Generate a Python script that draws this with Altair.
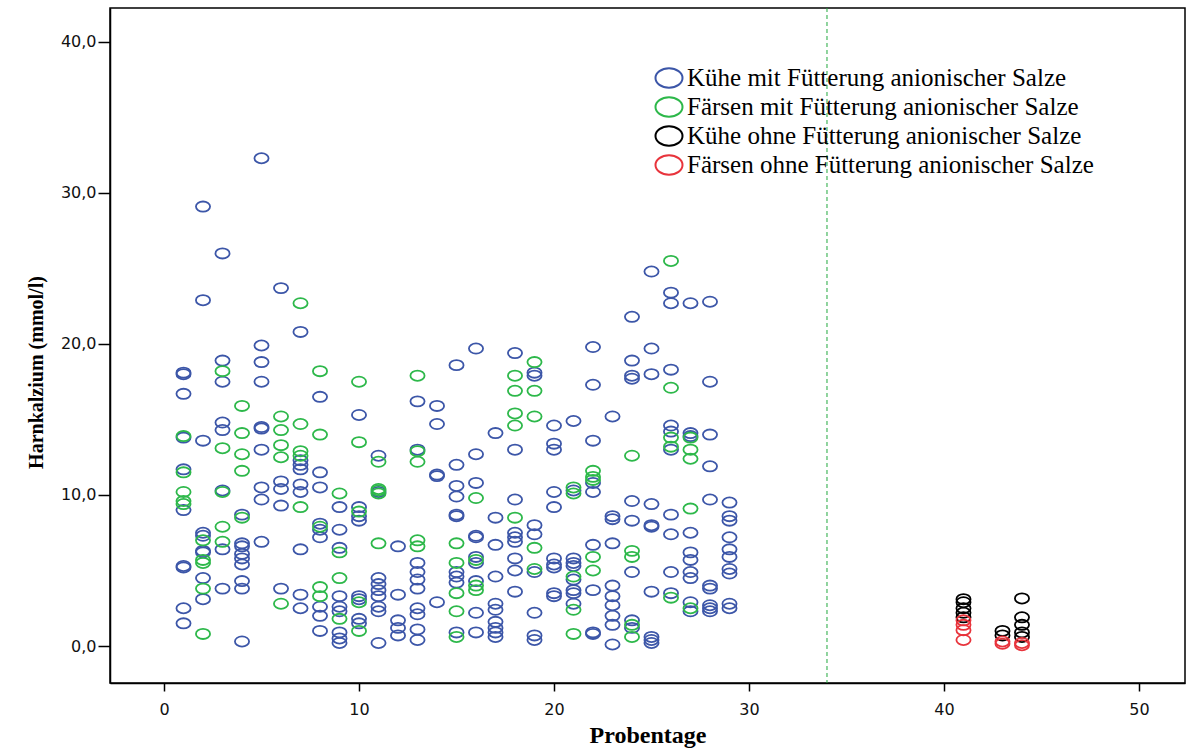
import altair as alt
import pandas as pd

# Harnkalzium (mmol/l) je Probentag, getrennt nach Tiergruppe
kuehe_mit = {
    1: [18.1, 18.0, 16.7, 13.8, 11.7, 9.0, 5.3, 5.2, 2.5, 1.5],
    2: [29.1, 22.9, 13.6, 7.5, 7.3, 6.3, 6.2, 4.5, 3.1],
    3: [26.0, 18.9, 17.5, 14.8, 14.3, 10.3, 6.4, 3.8],
    4: [8.7, 6.8, 6.6, 6.1, 5.8, 5.4, 4.3, 3.8, 0.3],
    5: [32.3, 19.9, 18.8, 17.5, 14.5, 14.4, 13.0, 10.5, 9.7, 6.9],
    6: [23.7, 10.9, 10.4, 9.3, 3.8],
    7: [20.8, 12.3, 12.0, 11.7, 10.7, 10.2, 6.4, 3.4, 2.5],
    8: [16.5, 11.5, 10.5, 8.1, 7.7, 7.2, 2.6, 2.0, 1.0],
    9: [9.2, 7.7, 6.5, 3.3, 2.6, 2.3, 0.9, 0.5, 0.2],
    10: [15.3, 9.2, 8.6, 8.3, 3.3, 3.1, 1.8, 1.5],
    11: [12.6, 10.2, 4.5, 4.1, 3.7, 3.3, 2.6, 2.3, 0.2],
    12: [6.6, 3.4, 1.7, 1.2, 0.7],
    13: [16.2, 13.0, 5.5, 4.9, 4.4, 3.8, 2.5, 2.1, 1.1, 0.4],
    14: [15.9, 14.7, 11.35, 11.25, 2.9],
    15: [18.6, 12.0, 10.6, 9.9, 8.7, 8.6, 4.9, 4.6, 4.2, 0.9],
    16: [19.7, 12.7, 10.8, 7.3, 7.2, 5.9, 5.5, 4.3, 2.2, 0.9],
    17: [14.1, 8.5, 6.7, 4.6, 2.8, 2.4, 1.6, 1.2, 0.9, 0.6],
    18: [19.4, 13.0, 9.7, 7.5, 7.2, 6.9, 5.8, 5.0, 3.6],
    19: [18.1, 17.9, 8.0, 7.4, 4.9, 2.2, 0.7, 0.4],
    20: [14.6, 13.4, 13.0, 10.2, 9.2, 5.8, 5.4, 5.2, 3.5, 3.3],
    21: [14.9, 10.3, 5.8, 5.5, 5.3, 4.4, 3.7, 3.5, 2.8],
    22: [19.8, 17.3, 13.6, 10.8, 10.2, 6.7, 3.7, 0.9, 0.8],
    23: [15.2, 8.6, 8.4, 6.8, 4.0, 3.3, 2.7, 2.0, 1.4, 0.1],
    24: [21.8, 18.9, 17.9, 17.7, 9.6, 8.3, 4.9, 1.7, 1.2],
    25: [24.8, 19.7, 18.0, 9.4, 8.0, 7.9, 3.6, 0.6, 0.4, 0.2],
    26: [23.4, 22.7, 18.3, 14.6, 14.2, 13.0, 8.7, 7.4, 4.9, 3.5],
    27: [22.7, 14.1, 13.9, 7.5, 6.2, 5.7, 4.9, 4.5, 2.9, 2.3],
    28: [22.8, 17.5, 14.0, 11.9, 9.7, 4.0, 3.8, 2.7, 2.5, 2.3],
    29: [9.5, 8.6, 8.3, 7.2, 6.4, 5.9, 5.1, 4.8, 2.8, 2.5],
}

faersen_mit = {
    1: [13.9, 11.5, 10.2, 9.6, 9.4],
    2: [7.0, 5.7, 5.5, 3.8, 0.8],
    3: [18.2, 13.1, 10.2, 7.9, 6.9],
    4: [15.9, 14.1, 12.7, 11.6, 8.5],
    6: [15.2, 14.3, 13.3, 12.5, 2.8],
    7: [22.7, 14.7, 12.9, 12.6, 9.2],
    8: [18.2, 14.0, 7.9, 3.9, 3.3],
    9: [10.1, 6.2, 4.5, 1.8],
    10: [17.5, 13.5, 8.9, 2.9, 1.0],
    11: [12.2, 10.4, 10.3, 10.1, 6.8],
    13: [17.9, 12.9, 12.2, 7.0, 6.6],
    15: [6.8, 5.5, 3.5, 2.3, 0.6],
    16: [9.8, 5.7, 4.0, 3.7],
    18: [17.9, 16.9, 15.4, 14.6, 8.5],
    19: [18.8, 16.9, 15.2, 6.5, 5.1],
    21: [10.5, 10.1, 4.6, 2.4, 0.8],
    22: [11.6, 11.2, 11.0, 5.9, 5.0],
    24: [12.6, 6.3, 5.9, 1.4, 0.6],
    26: [25.5, 17.1, 13.8, 13.2, 3.2],
    27: [13.8, 13.0, 12.4, 9.1, 2.5],
}

kuehe_ohne = {
    41: [3.1, 2.9, 2.5, 2.2, 1.9],
    43: [1.0, 0.7],
    44: [3.15, 1.9, 1.4, 0.9, 0.6],
}

faersen_ohne = {
    41: [1.7, 1.4, 1.05, 0.4],
    43: [0.3, 0.15],
    44: [0.2, 0.05],
}

gruppen = [
    "Kühe mit Fütterung anionischer Salze",
    "Färsen mit Fütterung anionischer Salze",
    "Kühe ohne Fütterung anionischer Salze",
    "Färsen ohne Fütterung anionischer Salze",
]
farben = ["#3c56a8", "#2db84a", "#000000", "#e8343c"]

trennlinie_tag = [34]

rows = []
for gruppe, werte in zip(gruppen, [kuehe_mit, faersen_mit, kuehe_ohne, faersen_ohne]):
    for tag, liste in werte.items():
        for w in liste:
            rows.append({"Probentage": tag, "Harnkalzium": w, "Gruppe": gruppe})
df = pd.DataFrame(rows)

ellipse = "M-1,0A1,0.72,0,1,1,1,0A1,0.72,0,1,1,-1,0Z"

x_scale = alt.Scale(domain=[-2.77, 52.36], nice=False, zero=False)
y_scale = alt.Scale(domain=[-2.45, 42.25], nice=False, zero=False)

points = alt.Chart(df).mark_point(
    shape=ellipse, filled=False, size=200, strokeWidth=1.8, opacity=1
).encode(
    x=alt.X(
        "Probentage:Q",
        scale=x_scale,
        axis=alt.Axis(
            values=[0, 10, 20, 30, 40, 50],
            format="d",
            tickSize=8,
            labelPadding=10,
            title="Probentage",
            titlePadding=6,
            titleFontSize=24,
        ),
    ),
    y=alt.Y(
        "Harnkalzium:Q",
        scale=y_scale,
        axis=alt.Axis(
            values=[0, 10, 20, 30, 40],
            labelExpr="replace(format(datum.value, '.1f'), '.', ',')",
            tickSize=12,
            labelPadding=2,
            title="Harnkalzium (mmol/l)",
            titlePadding=14,
            titleFontSize=20,
            titleY=364,
        ),
    ),
    color=alt.Color(
        "Gruppe:N",
        scale=alt.Scale(domain=gruppen, range=farben),
        sort=gruppen,
        legend=alt.Legend(
            title=None,
            orient="none",
            legendX=544,
            legendY=55,
            symbolSize=730,
            symbolStrokeWidth=2,
            symbolType=ellipse,
            labelFont="Liberation Serif",
            labelFontSize=25,
            labelColor="#000000",
            labelLimit=0,
            labelOffset=3,
            rowPadding=0,
            padding=0,
        ),
    ),
)

linie = alt.Chart(pd.DataFrame({"tag": trennlinie_tag})).mark_rule(
    color="#22a83e", strokeDash=[4, 3], strokeWidth=1
).encode(x=alt.X("tag:Q", scale=x_scale))

chart = (
    alt.layer(linie, points)
    .properties(
        width=1075,
        height=675,
        autosize=alt.AutoSizeParams(type="none"),
        padding={"left": 110, "top": 8, "right": 1, "bottom": 66},
        background="#ffffff",
    )
    .configure_view(stroke="#000000", strokeWidth=1.5)
    .configure_axis(
        domainColor="#000000",
        domainWidth=1.5,
        tickColor="#000000",
        tickWidth=1.5,
        grid=False,
        labelFont="DejaVu Sans",
        labelFontSize=16,
        labelColor="#111111",
        titleFont="Liberation Serif",
        titleFontWeight="bold",
        titleColor="#000000",
    )
)

chart.save("out.html", embed_options={"renderer": "svg", "actions": False})
